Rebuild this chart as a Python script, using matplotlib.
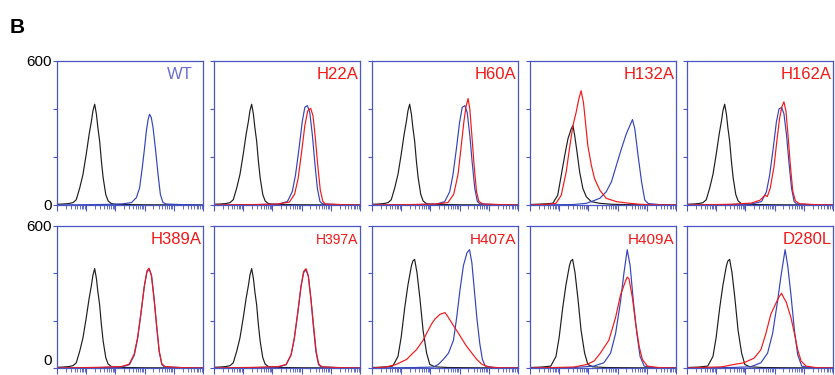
import matplotlib
matplotlib.use("Agg")
import matplotlib.pyplot as plt
import numpy as np

plt.rcParams['font.family'] = ['Liberation Sans', 'DejaVu Sans']

# x = log10 fluorescence (decades 0..5), y = cell counts
black_ctrl = [(0.0, 3), (0.2, 4), (0.4, 6), (0.55, 10), (0.66, 22), (0.78, 72), (0.89, 128),
              (1.00, 211), (1.10, 294), (1.18, 350), (1.23, 392), (1.29, 420), (1.35, 378),
              (1.40, 322), (1.46, 267), (1.52, 183), (1.58, 114), (1.67, 44), (1.75, 17),
              (1.86, 6), (2.0, 3), (2.4, 2), (3.0, 1), (5.0, 0)]
black_h132a = [(0.0, 2), (0.4, 4), (0.78, 7), (0.95, 41), (1.07, 124), (1.19, 207), (1.30, 276),
               (1.41, 317), (1.47, 331), (1.53, 290), (1.61, 221), (1.70, 138), (1.81, 69),
               (1.93, 34), (2.10, 14), (2.39, 7), (2.8, 3), (3.5, 1), (5.0, 0)]
black_ctrl2 = [(0.0, 2), (0.4, 4), (0.71, 8), (0.89, 49), (1.00, 131), (1.12, 254), (1.23, 350),
               (1.35, 432), (1.40, 452), (1.46, 459), (1.54, 404), (1.64, 295), (1.75, 158),
               (1.87, 63), (1.98, 15), (2.15, 5), (2.6, 2), (3.5, 1), (5.0, 0)]

wt_blue = [(0.0, 0), (1.5, 2), (2.2, 4), (2.55, 10), (2.72, 31), (2.83, 72), (2.92, 156),
           (3.00, 239), (3.06, 308), (3.12, 356), (3.17, 378), (3.23, 364), (3.29, 322),
           (3.38, 225), (3.46, 128), (3.54, 44), (3.63, 10), (3.75, 4), (4.2, 2), (5.0, 0)]

h22a_blue = [(0.0, 0), (1.5, 2), (2.2, 4), (2.51, 14), (2.68, 55), (2.79, 124), (2.91, 234),
             (3.02, 345), (3.11, 407), (3.20, 414), (3.28, 386), (3.37, 290), (3.45, 179),
             (3.54, 69), (3.63, 14), (3.71, 5), (4.2, 2), (5.0, 0)]
h22a_red = [(0.0, 0), (1.5, 2), (2.2, 4), (2.58, 12), (2.76, 45), (2.88, 110), (3.00, 220),
            (3.11, 330), (3.21, 392), (3.31, 403), (3.39, 372), (3.47, 280), (3.55, 170),
            (3.64, 62), (3.73, 14), (3.82, 4), (4.3, 2), (5.0, 0)]

h60a_blue = [(0.0, 0), (1.5, 2), (2.2, 4), (2.49, 14), (2.66, 55), (2.77, 124), (2.89, 234),
             (3.00, 345), (3.09, 407), (3.18, 414), (3.26, 386), (3.35, 290), (3.43, 179),
             (3.52, 69), (3.61, 14), (3.70, 5), (4.2, 2), (5.0, 0)]
h60a_red = [(0.0, 0), (1.5, 2), (2.2, 4), (2.6, 10), (2.8, 45), (2.95, 130), (3.05, 240),
            (3.15, 350), (3.22, 410), (3.29, 444), (3.35, 400), (3.42, 290), (3.50, 160),
            (3.58, 55), (3.66, 15), (3.8, 4), (4.3, 2), (5.0, 0)]

h132a_blue = [(0.0, 0), (1.5, 2), (1.93, 7), (2.16, 17), (2.39, 28), (2.61, 55), (2.79, 97),
              (2.96, 166), (3.13, 234), (3.30, 297), (3.42, 331), (3.51, 356), (3.59, 317),
              (3.70, 207), (3.82, 97), (3.93, 21), (4.05, 6), (4.4, 2), (5.0, 0)]
h132a_red = [(0.0, 0), (0.6, 3), (0.89, 7), (1.07, 41), (1.24, 138), (1.35, 234), (1.47, 331),
             (1.58, 386), (1.67, 441), (1.75, 476), (1.83, 428), (1.90, 345), (1.98, 248),
             (2.10, 166), (2.21, 110), (2.39, 62), (2.61, 28), (2.96, 14), (3.42, 7),
             (3.76, 3), (4.2, 1), (5.0, 0)]

h162a_blue = [(0.0, 0), (1.5, 2), (2.2, 4), (2.55, 14), (2.72, 55), (2.83, 124), (2.95, 234),
              (3.06, 345), (3.15, 400), (3.24, 407), (3.32, 380), (3.41, 290), (3.49, 179),
              (3.58, 69), (3.67, 14), (3.75, 5), (4.2, 2), (5.0, 0)]
h162a_red = [(0.0, 0), (1.5, 3), (2.2, 8), (2.5, 20), (2.67, 41), (2.75, 35), (2.85, 70),
             (2.98, 160), (3.08, 270), (3.17, 360), (3.25, 410), (3.32, 430), (3.39, 390),
             (3.46, 290), (3.54, 165), (3.62, 60), (3.71, 18), (3.85, 5), (4.3, 2), (5.0, 0)]

h389a_blue = [(0.0, 0), (1.5, 2), (2.2, 4), (2.48, 14), (2.65, 55), (2.76, 124), (2.88, 234),
              (2.99, 345), (3.08, 405), (3.16, 418), (3.24, 390), (3.33, 290), (3.41, 179),
              (3.50, 69), (3.59, 14), (3.67, 5), (4.2, 2), (5.0, 0)]
h389a_red = [(0.0, 0), (1.5, 3), (2.2, 6), (2.47, 16), (2.64, 58), (2.76, 128), (2.88, 238),
             (2.99, 345), (3.08, 410), (3.15, 422), (3.23, 392), (3.32, 295), (3.41, 182),
             (3.50, 72), (3.59, 18), (3.70, 6), (4.2, 2), (5.0, 0)]

h397a_blue = [(0.0, 0), (1.5, 2), (2.2, 4), (2.47, 14), (2.64, 55), (2.75, 124), (2.87, 234),
              (2.98, 345), (3.07, 403), (3.15, 415), (3.23, 388), (3.32, 290), (3.40, 179),
              (3.49, 69), (3.58, 14), (3.66, 5), (4.2, 2), (5.0, 0)]
h397a_red = [(0.0, 0), (1.5, 3), (2.2, 6), (2.47, 15), (2.64, 56), (2.75, 126), (2.87, 236),
             (2.98, 345), (3.07, 408), (3.15, 420), (3.23, 390), (3.32, 292), (3.41, 180),
             (3.50, 70), (3.59, 16), (3.70, 5), (4.2, 2), (5.0, 0)]

h407a_blue = [(0.0, 0), (1.5, 2), (2.10, 4), (2.27, 15), (2.44, 36), (2.62, 63), (2.79, 117),
              (2.90, 213), (3.02, 336), (3.13, 432), (3.25, 486), (3.34, 500), (3.42, 445),
              (3.50, 336), (3.59, 213), (3.69, 104), (3.78, 36), (3.88, 8), (4.2, 2), (5.0, 0)]
h407a_red = [(0.0, 0), (0.48, 4), (0.83, 15), (1.18, 36), (1.52, 77), (1.75, 117), (1.92, 158),
             (2.04, 186), (2.15, 206), (2.33, 227), (2.50, 234), (2.62, 213), (2.79, 179),
             (2.97, 145), (3.14, 111), (3.25, 90), (3.42, 63), (3.59, 36), (3.77, 15),
             (4.00, 4), (4.4, 1), (5.0, 0)]

h409a_blue = [(0.0, 0), (1.5, 2), (2.18, 8), (2.53, 22), (2.76, 63), (2.93, 145), (3.10, 281),
              (3.22, 404), (3.33, 500), (3.43, 432), (3.54, 281), (3.66, 145), (3.77, 49),
              (3.91, 8), (4.2, 2), (5.0, 0)]
h409a_red = [(0.0, 0), (1.5, 4), (1.95, 15), (2.2, 30), (2.41, 63), (2.70, 117), (2.93, 213),
             (3.10, 309), (3.28, 370), (3.33, 384), (3.39, 377), (3.51, 295), (3.62, 186),
             (3.74, 90), (3.85, 36), (4.02, 8), (4.4, 2), (5.0, 0)]

d280l_blue = [(0.0, 0), (1.5, 2), (2.18, 5), (2.53, 22), (2.76, 63), (2.93, 145), (3.10, 281),
              (3.22, 390), (3.36, 500), (3.45, 432), (3.56, 309), (3.68, 158), (3.79, 56),
              (3.93, 8), (4.2, 2), (5.0, 0)]
d280l_red = [(0.0, 0), (1.2, 5), (1.61, 15), (1.95, 22), (2.30, 42), (2.53, 77), (2.70, 145),
             (2.87, 227), (3.05, 275), (3.15, 300), (3.24, 316), (3.32, 295), (3.39, 281),
             (3.56, 213), (3.68, 145), (3.79, 77), (3.91, 29), (4.08, 8), (4.4, 2), (5.0, 0)]

names = ["WT", "H22A", "H60A", "H132A", "H162A",
         "H389A", "H397A", "H407A", "H409A", "D280L"]
blacks = [black_ctrl, black_ctrl, black_ctrl, black_h132a, black_ctrl,
          black_ctrl, black_ctrl, black_ctrl2, black_ctrl2, black_ctrl2]
blues = [wt_blue, h22a_blue, h60a_blue, h132a_blue, h162a_blue,
         h389a_blue, h397a_blue, h407a_blue, h409a_blue, d280l_blue]
reds = [None, h22a_red, h60a_red, h132a_red, h162a_red,
        h389a_red, h397a_red, h407a_red, h409a_red, d280l_red]

# styling
frame_col = '#4a56c4'
blue_col = '#3444b8'
red_col = '#f01818'
black_col = '#1e1e1e'
label_size = {"H397A": 10, "H407A": 11, "H409A": 11}

W, H = 835, 375
fig = plt.figure(figsize=(W / 100, H / 100), dpi=100)
lefts = [57, 214, 372, 530, 687]
rows = [(61, 205), (226, 368)]
pw = 146

minor = [k + np.log10(m) for k in range(5) for m in range(2, 10)]

for i, name in enumerate(names):
    r, c = divmod(i, 5)
    top, bot = rows[r]
    ax = fig.add_axes([lefts[c] / W, (H - bot) / H, pw / W, (bot - top) / H])
    x, y = zip(*blacks[i])
    ax.plot(x, y, color=black_col, lw=0.85)
    x, y = zip(*blues[i])
    ax.plot(x, y, color=blue_col, lw=0.85)
    if reds[i] is not None:
        x, y = zip(*reds[i])
        ax.plot(x, y, color=red_col, lw=0.85)
    ax.set_xlim(0, 5)
    ax.set_ylim(0, 600)
    for s in ax.spines.values():
        s.set_color(frame_col)
        s.set_linewidth(0.9)
    ax.set_xticks(range(6))
    ax.set_xticks(minor, minor=True)
    ax.set_xticklabels([])
    ax.set_yticks([0, 200, 400, 600])
    if c == 0:
        ax.set_yticklabels(['0', '', '', '600'], fontsize=11)
        if r == 1:
            ax.get_yticklabels()[0].set_verticalalignment('bottom')
    else:
        ax.set_yticklabels([])
    ax.tick_params(axis='x', which='major', direction='out', length=4, width=0.8, color=frame_col)
    ax.tick_params(axis='x', which='minor', direction='out', length=3, width=0.6, color=frame_col)
    ax.tick_params(axis='y', direction='out', length=3, width=0.8, color=frame_col, pad=1)
    tcol = '#6b6fd0' if name == "WT" else red_col
    xr = 0.93 if name == "WT" else 0.99
    ax.text(xr, 0.875, name, transform=ax.transAxes, ha='right', va='baseline',
            color=tcol, fontsize=label_size.get(name, 12))

fig.text(10 / W, 1 - 33 / H, "B", fontsize=15, fontweight='bold', va='baseline')

fig.savefig("out.png", dpi=100)
